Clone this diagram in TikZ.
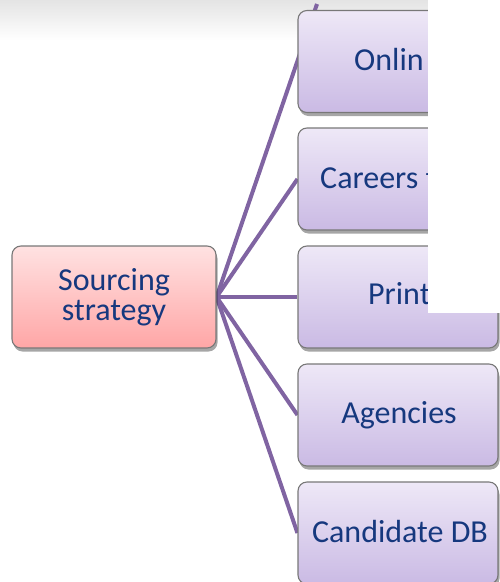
\documentclass[tikz,border=0pt]{standalone}
\usepackage{fontspec}
\setmainfont{Carlito}
\usetikzlibrary{shadows}
\definecolor{txtblue}{RGB}{22,56,126}
\definecolor{linepurple}{RGB}{128,100,162}
\definecolor{boxtop}{RGB}{238,232,247}
\definecolor{boxbot}{RGB}{202,186,228}
\definecolor{srctop}{RGB}{255,226,226}
\definecolor{srcbot}{RGB}{255,166,166}
\definecolor{edgegray}{RGB}{120,120,120}
\definecolor{topgray}{RGB}{228,228,228}
\pgfdeclarelayer{back}
\pgfsetlayers{back,main}
\tikzset{
  box/.style={rectangle, rounded corners=9pt, draw=edgegray, line width=1.1pt,
    minimum width=200pt, minimum height=102pt, inner sep=0pt,
    top color=boxtop, bottom color=boxbot,
    drop shadow={shadow xshift=1.5pt, shadow yshift=-3.5pt, opacity=0.35, fill=black}},
  srcbox/.style={box, top color=srctop, bottom color=srcbot, minimum width=204pt},
  lbl/.style={text=txtblue, font=\fontsize{32}{30}\selectfont, inner sep=0pt},
  conn/.style={draw=linepurple, line width=4pt},
}
\begin{document}
\begin{tikzpicture}[x=1pt,y=-1pt]
\useasboundingbox (0,0) rectangle (500,582);
% boxes
\node[srcbox, lbl, align=center] (src) at (114,297) {Sourcing\\strategy};
\node[box] (b1) at (398,61.5) {};
\node[box] (b2) at (398,179) {};
\node[box] (b3) at (398,297) {};
\node[box] (b4) at (398,415) {};
\node[box] (b5) at (398,533) {};
\coordinate (c1) at (317,4);
% labels
\node[lbl, anchor=base west] (t1) at (354,70) {Onlin};
\node[lbl, anchor=base west] (t2) at (320,188) {Careers t};
\node[lbl, anchor=base west] (t3) at (368,304) {Print};
\node[lbl, anchor=base] (t4) at (399,423) {Agencies};
\node[lbl, anchor=base] (t5) at (400,542) {Candidate DB};
% background: top fade and connectors
\begin{pgfonlayer}{back}
  \fill[top color=topgray, bottom color=white] (0,0) rectangle (428,40);
  \draw[conn] (src.east) -- (c1);
  \draw[conn] (src.east) -- (b2.west);
  \draw[conn] (src.east) -- (b3.west);
  \draw[conn] (src.east) -- (b4.west);
  \draw[conn] (src.east) -- (b5.west);
\end{pgfonlayer}
% white cover
\fill[white] (428,0) rectangle (500,313);
\end{tikzpicture}
\end{document}
